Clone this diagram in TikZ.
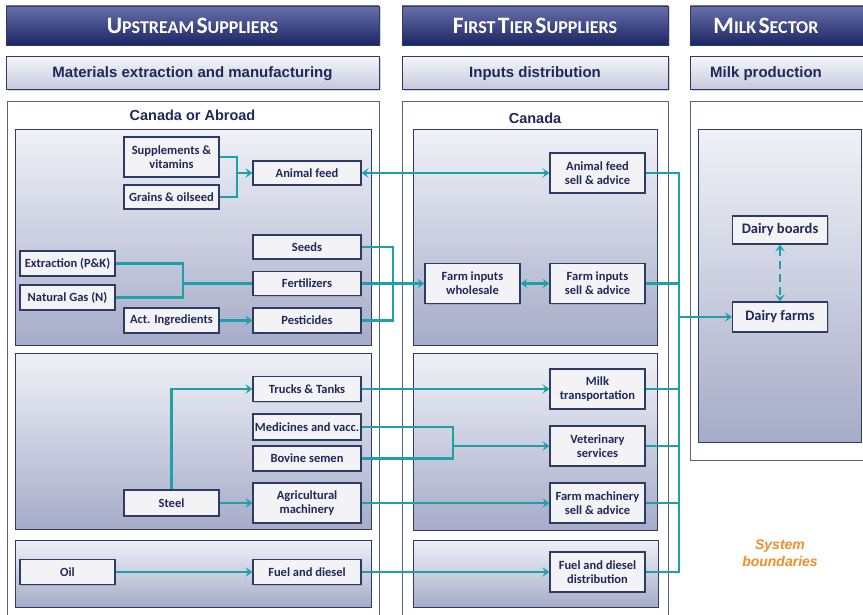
\documentclass[tikz,border=0pt]{standalone}
\usepackage{fontspec}
\setmainfont{Liberation Sans}
\newfontfamily\carl{Carlito}
\usetikzlibrary{arrows.meta,shadows}
\definecolor{tealc}{RGB}{30,160,168}
\definecolor{bnavy}{RGB}{46,58,104}
\definecolor{tnavy}{RGB}{30,40,90}
\definecolor{hdrtop}{RGB}{104,112,170}
\definecolor{hdrbot}{RGB}{28,38,100}
\definecolor{subtop}{RGB}{244,245,250}
\definecolor{subbot}{RGB}{196,200,218}
\definecolor{pantop}{RGB}{240,241,247}
\definecolor{panbot}{RGB}{166,172,200}
\definecolor{boxfill}{RGB}{243,243,245}
\definecolor{orangec}{RGB}{242,140,40}
\newcommand\fsc[2]{{\fontsize{23.5}{23.5}\selectfont #1}{\fontsize{18}{18}\selectfont #2}}
\begin{document}
\begin{tikzpicture}[x=1pt,y=-1pt,
  hdr/.style={draw=bnavy, line width=0.8pt, top color=hdrtop, bottom color=hdrbot,
    text=white, font=\carl\bfseries, drop shadow={shadow xshift=1.5pt, shadow yshift=-1.5pt, opacity=0.35}},
  sub/.style={draw=bnavy, line width=1pt, top color=subtop, bottom color=subbot,
    text=tnavy, font=\bfseries\fontsize{15}{15}\selectfont, drop shadow={shadow xshift=1.5pt, shadow yshift=-1.5pt, opacity=0.35}},
  outer/.style={draw=bnavy!80, line width=0.9pt, fill=white},
  panel/.style={draw=bnavy, line width=1pt, top color=pantop, bottom color=panbot},
  box/.style={draw=bnavy, line width=1.1pt, fill=boxfill, text=tnavy, align=center,
    font=\carl\bfseries\fontsize{12.5}{14}\selectfont, inner sep=1pt,
    drop shadow={shadow xshift=1.2pt, shadow yshift=-1.2pt, opacity=0.4}},
  bigbox/.style={box, font=\carl\bfseries\fontsize{14.5}{16}\selectfont},
  ln/.style={draw=tealc, line width=2.4pt},
  arr/.style={ln, -{Stealth[length=7pt,width=9.5pt,inset=3pt]}},
  darr/.style={ln, {Stealth[length=7pt,width=9.5pt,inset=3pt]}-{Stealth[length=7pt,width=9.5pt,inset=3pt]}},
  lbl/.style={text=tnavy, font=\bfseries\fontsize{14.5}{15}\selectfont}
]
\useasboundingbox (0,0) rectangle (863,615);

% headers
\node[hdr, minimum width=373pt, minimum height=39pt] (h1) at (192.5,25.5) {\fsc{U}{PSTREAM} \fsc{S}{UPPLIERS}};
\node[hdr, minimum width=266pt, minimum height=39pt] (h2) at (535,25.5) {\fsc{F}{IRST} \fsc{T}{IER} \fsc{S}{UPPLIERS}};
\node[hdr, minimum width=180pt, minimum height=39pt, anchor=west] (h3) at (690,25.5) {};
\node[text=white, font=\carl\bfseries] (h3t) at (766,25.5) {\fsc{M}{ILK} \fsc{S}{ECTOR}};

\node[sub, minimum width=373pt, minimum height=33pt] (s1) at (192.5,73.5) {Materials extraction and manufacturing};
\node[sub, minimum width=266pt, minimum height=33pt] (s2) at (535,73.5) {Inputs distribution};
\node[sub, minimum width=180pt, minimum height=33pt, anchor=west] (s3) at (690,73.5) {};
\node[text=tnavy, font=\bfseries\fontsize{15}{15}\selectfont] (s3t) at (766,73.5) {Milk production};

% outer boxes
\draw[outer] (7,101) rectangle (379,625);
\draw[outer] (402,101) rectangle (668,625);
\draw[outer] (690,101) rectangle (870,460);
\node[lbl] (ca) at (192.5,115) {Canada or Abroad};
\node[lbl] (cn) at (535,118) {Canada};

% panels
\draw[panel] (15,130) rectangle (371,345);
\draw[panel] (15,353) rectangle (371,529);
\draw[panel] (15,540) rectangle (371,607);
\draw[panel] (413,130) rectangle (657,345);
\draw[panel] (413,353) rectangle (657,530);
\draw[panel] (413,540) rectangle (658,607);
\draw[panel] (698,130) rectangle (861,442);

% left boxes
\node[box, minimum width=95pt, minimum height=40pt] (sup) at (171.5,157) {Supplements \&\\vitamins};
\node[box, minimum width=95pt, minimum height=24pt] (grain) at (171.5,197) {Grains \& oilseed};
\node[box, minimum width=108pt, minimum height=24pt] (afeed) at (307,173) {Animal feed};
\node[box, minimum width=108pt, minimum height=24pt] (seeds) at (307,247) {Seeds};
\node[box, minimum width=95pt, minimum height=25pt] (extr) at (67.5,263.5) {Extraction (P\&K)};
\node[box, minimum width=95pt, minimum height=25pt] (ngas) at (67.5,297.5) {Natural Gas (N)};
\node[box, minimum width=108pt, minimum height=24pt] (fert) at (307,283.5) {Fertilizers};
\node[box, minimum width=95pt, minimum height=25pt] (act) at (171.5,320.5) {Act. Ingredients};
\node[box, minimum width=108pt, minimum height=25pt] (pest) at (307,320.5) {Pesticides};
\node[box, minimum width=108pt, minimum height=25pt] (trucks) at (307,389) {Trucks \& Tanks};
\node[box, minimum width=108pt, minimum height=26pt, inner sep=0pt] (med) at (307,427) {Medicines and vacc.};
\node[box, minimum width=108pt, minimum height=25pt] (bov) at (307,458.5) {Bovine semen};
\node[box, minimum width=108pt, minimum height=40pt] (agm) at (307,503) {Agricultural\\machinery};
\node[box, minimum width=95pt, minimum height=26pt] (steel) at (171.5,503) {Steel};
\node[box, minimum width=95pt, minimum height=25pt] (oil) at (67.5,572) {Oil};
\node[box, minimum width=108pt, minimum height=25pt] (fuel) at (307,572) {Fuel and diesel};

% middle boxes
\node[box, minimum width=95pt, minimum height=40pt] (afsa) at (597.5,173) {Animal feed\\sell \& advice};
\node[box, minimum width=95pt, minimum height=40pt] (fiw) at (472.5,283.5) {Farm inputs\\wholesale};
\node[box, minimum width=95pt, minimum height=40pt] (fisa) at (597.5,283.5) {Farm inputs\\sell \& advice};
\node[box, minimum width=95pt, minimum height=40pt] (milkt) at (597.5,389) {Milk\\transportation};
\node[box, minimum width=95pt, minimum height=40pt] (vet) at (597.5,446) {Veterinary\\services};
\node[box, minimum width=95pt, minimum height=40pt] (fmsa) at (597.5,503) {Farm machinery\\sell \& advice};
\node[box, minimum width=95pt, minimum height=40pt] (fdd) at (597.5,572) {Fuel and diesel\\distribution};

% right boxes
\node[bigbox, minimum width=95pt, minimum height=28pt] (dboards) at (780,230) {Dairy boards};
\node[bigbox, minimum width=95pt, minimum height=30pt] (dfarms) at (780,317) {Dairy farms};

\node[text=orangec, font=\bfseries\itshape\fontsize{14}{17}\selectfont, align=center] (sysb) at (780,553) {System\\boundaries};

% connectors
\coordinate (j1) at (237,173);
\draw[ln] (sup.east) -| (j1);
\draw[ln] (grain.east) -| (j1);
\draw[arr] (j1) -- (afeed.west);
\draw[darr] (afeed.east) -- (afsa.west);

\coordinate (j3) at (183,283.5);
\draw[ln] (extr.east) -| (j3);
\draw[ln] (ngas.east) -| (j3);
\draw[ln] (j3) -- (fert.west);
\coordinate (j2) at (393,283.5);
\draw[ln] (seeds.east) -| (j2);
\draw[ln] (pest.east) -| (j2);
\draw[arr] (fert.east) -- (fiw.west);
\draw[arr] (act.east) -- (pest.west);
\draw[darr] (fiw.east) -- (fisa.west);

\coordinate (btop) at (679,173);
\coordinate (bbot) at (679,572);
\draw[ln] (afsa.east) -- (btop) -- (bbot) -- (fdd.east);
\draw[ln] (fisa.east) -- (fisa.east -| btop);
\draw[ln] (milkt.east) -- (milkt.east -| btop);
\draw[ln] (vet.east) -- (vet.east -| btop);
\draw[ln] (fmsa.east) -- (fmsa.east -| btop);
\draw[arr] (dfarms.west -| btop) -- (dfarms.west);
\draw[darr, dash pattern=on 8pt off 5pt] (dboards.south) -- (dfarms.north);

\draw[arr] (trucks.east) -- (milkt.west);
\draw[arr] (steel.north) |- (trucks.west);
\draw[arr] (steel.east) -- (agm.west);
\coordinate (j4) at (453,446);
\draw[ln] (med.east) -| (j4);
\draw[ln] (bov.east) -| (j4);
\draw[arr] (j4) -- (vet.west);
\draw[arr] (agm.east) -- (fmsa.west);
\draw[arr] (oil.east) -- (fuel.west);
\draw[arr] (fuel.east) -- (fdd.west);
\end{tikzpicture}
\end{document}
